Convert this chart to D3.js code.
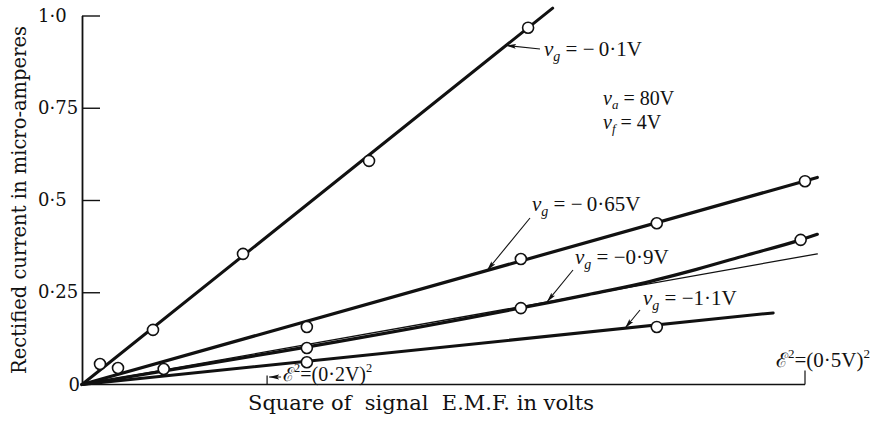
<!DOCTYPE html>
<html>
<head>
<meta charset="utf-8">
<script src="https://cdn.jsdelivr.net/npm/d3@7"></script>
<style>
  html, body { margin: 0; padding: 0; background: #fff; }
  svg { display: block; }
  text { font-family: "Liberation Serif", "Times New Roman", serif; fill: #111; }
  .wide { font-family: "DejaVu Serif", serif; }
</style>
</head>
<body>
<svg id="chart" width="874" height="421"></svg>
<script>
// Rectified current (µA) against square of signal e.m.f. for four grid biases.
// Abscissa is in chart divisions; the two E² reference marks sit on it.
const yTicks = [0, 0.25, 0.5, 0.75, 1.0];
const yTickLabels = ["0", "0·25", "0·5", "0·75", "1·0"];

const biasLabels = ["−\u20090·1V", "−\u20090·65V", "−0·9V", "−1·1V"];

// measured points (division, µA)
const pts01  = [[2.49, 0.0556], [9.82, 0.148], [22.27, 0.354], [39.7, 0.606], [61.7, 0.967]];
const pts065 = [[4.98, 0.0447], [31.1, 0.156], [60.7, 0.340], [79.5, 0.437], [100, 0.551]];
const pts09  = [[11.3, 0.042], [31.1, 0.0989], [60.7, 0.207], [99.4, 0.392]];
const pts11  = [[31.1, 0.0603], [79.5, 0.156]];

// drawn curves through the measurements
const fit01    = [[0, 0], [65.1, 1.02]];
const fit065   = [[0, 0], [101.7, 0.561]];
const fit09    = [[0, 0], [70, 0.2436], [77, 0.272], [85, 0.312], [92, 0.351], [99.4, 0.392], [101.7, 0.407]];
const fit09lin = [[0, 0], [101.7, 0.354]];
const fit11    = [[0, 0], [95.6, 0.194]];

// E² reference marks on the abscissa
const eMarkPos    = [25.6, 100];
const eMarkLabels = ["(0·2V)", "(0·5V)"];

const svg = d3.select("#chart");
const x = d3.scaleLinear().domain([0, 100]).range([82, 805]);
const y = d3.scaleLinear().domain([0, 1]).range([384.5, 15.5]);

// arrowhead
svg.append("defs").append("marker")
  .attr("id", "arrow").attr("viewBox", "0 0 10 6")
  .attr("refX", 10).attr("refY", 3)
  .attr("markerWidth", 10).attr("markerHeight", 6)
  .attr("markerUnits", "userSpaceOnUse")
  .attr("orient", "auto")
  .append("path").attr("d", "M0,0.6 L10,3 L0,5.4 L2,3 Z").attr("fill", "#111");

// y axis with inward ticks
const yAxis = d3.axisRight(y).tickValues(yTicks).tickSize(18).tickSizeOuter(0).tickFormat("");
const gy = svg.append("g").attr("transform", `translate(${x(0)},0)`).call(yAxis);
gy.select(".domain").attr("stroke", "#111").attr("stroke-width", 1.8);
gy.selectAll(".tick line").attr("stroke", "#111").attr("stroke-width", 1.4);
gy.selectAll(".tick").filter(d => d === 0).select("line").remove();

svg.append("g").selectAll("text").data(yTicks).join("text")
  .attr("class", "wide")
  .attr("x", d => d === 0 ? x(0) - 2 : 38)
  .attr("y", d => y(d) + 6)
  .attr("text-anchor", d => d === 0 ? "end" : "start")
  .attr("font-size", 18)
  .text((d, i) => yTickLabels[i]);

// x axis line
svg.append("line")
  .attr("x1", x(0)).attr("x2", x(100)).attr("y1", y(0)).attr("y2", y(0))
  .attr("stroke", "#111").attr("stroke-width", 1.5);

// E² marks
svg.append("line").attr("x1", x(eMarkPos[0])).attr("x2", x(eMarkPos[0]))
  .attr("y1", y(0)).attr("y2", y(0) - 9).attr("stroke", "#111").attr("stroke-width", 1.2);
svg.append("line").attr("x1", x(eMarkPos[1])).attr("x2", x(eMarkPos[1]))
  .attr("y1", y(0)).attr("y2", y(0) - 14).attr("stroke", "#111").attr("stroke-width", 1.2);
svg.append("line")
  .attr("x1", x(eMarkPos[0]) + 14).attr("y1", 377).attr("x2", x(eMarkPos[0]) + 2).attr("y2", 377)
  .attr("stroke", "#111").attr("stroke-width", 1).attr("marker-end", "url(#arrow)");

function eLabel(xp, yp, size, label) {
  const t = svg.append("text").attr("x", xp).attr("y", yp).attr("font-size", size);
  t.append("tspan").attr("font-family", "DejaVu Serif").attr("font-size", size * 0.95).text("\u2130");
  t.append("tspan").attr("dy", -size * 0.45).attr("font-size", size * 0.62).text("2");
  t.append("tspan").attr("dy", size * 0.45).text("=" + label);
  t.append("tspan").attr("dy", -size * 0.45).attr("font-size", size * 0.62).text("2");
}
eLabel(x(eMarkPos[0]) + 16, 381, 20, eMarkLabels[0]);
eLabel(776, 367, 21, eMarkLabels[1]);

// curves
const line = d3.line().x(d => x(d[0])).y(d => y(d[1]));
const lineSmooth = d3.line().x(d => x(d[0])).y(d => y(d[1])).curve(d3.curveMonotoneX);

const g = svg.append("g").attr("fill", "none").attr("stroke", "#111").attr("stroke-linecap", "round");
g.append("path").attr("d", line(fit09lin)).attr("stroke-width", 1.3);
g.append("path").attr("d", line(fit01)).attr("stroke-width", 3);
g.append("path").attr("d", line(fit065)).attr("stroke-width", 3.2);
g.append("path").attr("d", lineSmooth(fit09)).attr("stroke-width", 3.2);
g.append("path").attr("d", line(fit11)).attr("stroke-width", 3);

// measured points
const allPts = [...pts01, ...pts065, ...pts09, ...pts11];
svg.append("g").selectAll("circle").data(allPts).join("circle")
  .attr("cx", d => x(d[0])).attr("cy", d => y(d[1])).attr("r", 5.5)
  .attr("fill", "#fff").attr("stroke", "#111").attr("stroke-width", 1.6);

// value on a drawn curve at division u
function curveAt(fit, u) {
  for (let i = 1; i < fit.length; i++) {
    if (u <= fit[i][0]) {
      const [x0, y0] = fit[i - 1], [x1, y1] = fit[i];
      return y0 + (y1 - y0) * (u - x0) / (x1 - x0);
    }
  }
  return fit[fit.length - 1][1];
}

function biasLabel(xp, yp, label) {
  const t = svg.append("text").attr("x", xp).attr("y", yp).attr("font-size", 21);
  t.append("tspan").attr("font-style", "italic").text("v");
  t.append("tspan").attr("font-style", "italic").attr("font-size", 14).attr("dy", 5).text("g");
  t.append("tspan").attr("dy", -5).text(" = " + label);
}
function pointer(fx, fy, fit, px) {
  const u = x.invert(px);
  svg.append("line")
    .attr("x1", fx).attr("y1", fy).attr("x2", px).attr("y2", y(curveAt(fit, u)))
    .attr("stroke", "#111").attr("stroke-width", 1.1).attr("marker-end", "url(#arrow)");
}

biasLabel(544, 56, biasLabels[0]);
pointer(540, 49, fit01, 506);
biasLabel(532, 211, biasLabels[1]);
pointer(530, 218, fit065, 487);
biasLabel(575, 264, biasLabels[2]);
pointer(573, 270, fit09, 547);
biasLabel(643, 305, biasLabels[3]);
pointer(640, 310, fit11, 625);

// operating conditions
function condLabel(xp, yp, sub, val) {
  const t = svg.append("text").attr("x", xp).attr("y", yp).attr("font-size", 20);
  t.append("tspan").attr("font-style", "italic").text("v");
  t.append("tspan").attr("font-style", "italic").attr("font-size", 13).attr("dy", 4).text(sub);
  t.append("tspan").attr("dy", -4).text(" = " + val);
}
condLabel(603, 105, "a", "80V");
condLabel(603, 129, "f", "4V");

// axis titles
svg.append("text")
  .attr("class", "wide")
  .attr("x", 248).attr("y", 410).attr("font-size", 21)
  .attr("style", "white-space: pre")
  .text("Square of  signal  E.M.F. in volts");
svg.append("text")
  .attr("class", "wide")
  .attr("transform", "translate(26,200) rotate(-90)")
  .attr("text-anchor", "middle").attr("font-size", 19.5)
  .text("Rectified current in micro-amperes");
</script>
</body>
</html>
